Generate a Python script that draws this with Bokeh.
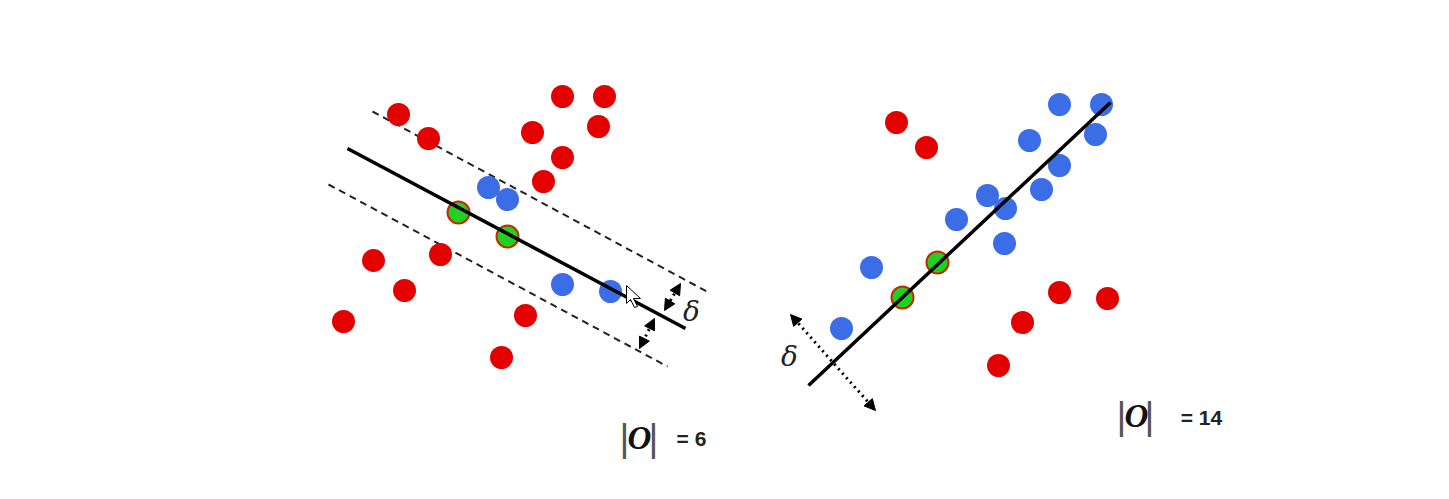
from bokeh.plotting import figure
from bokeh.models import Range1d, Arrow, NormalHead
from bokeh.core.properties import value
from bokeh.embed import file_html
from bokeh.resources import INLINE

# ---- data (reference pixel coordinates, y grows downward) ----
left_red_x = [398, 428, 562, 604, 532, 598, 562, 543, 373, 440, 404, 343, 525, 501]
left_red_y = [114, 138, 96, 96, 132, 126, 157, 181, 260, 254, 290, 321, 315, 357]
left_blue_x = [488, 507, 562, 610]
left_blue_y = [187, 199, 284, 291]
left_green_x = [458, 507]
left_green_y = [212, 236]

right_red_x = [896, 926, 1059, 1107, 1022, 998]
right_red_y = [122, 147, 292, 298, 322, 365]
right_blue_x = [1059, 1101, 1029, 1095, 1059, 987, 1005, 1041, 956, 1004, 871, 841]
right_blue_y = [104, 104, 140, 134, 165, 195, 208, 189, 219, 243, 267, 328]
right_green_x = [937, 902]
right_green_y = [262, 297]

left_line_x = [347, 685]
left_line_y = [148, 328]
left_upper_x = [372, 710]
left_upper_y = [111, 293]
left_lower_x = [328, 667]
left_lower_y = [184, 366]
right_line_x = [808, 1110]
right_line_y = [385, 102]

left_arrows = [((680, 283), (664, 310)), ((654, 318), (639, 348))]
right_arrow = ((790, 314), (875, 410))

labels = ["= 6", "= 14"]

RED = "#e50000"
BLUE = "#3a6de6"
GREEN = "#22d022"

W, H = 1433, 483
p = figure(width=W, height=H, output_backend="svg", toolbar_location=None,
           x_range=Range1d(0, W), y_range=Range1d(H, 0),
           min_border=0, min_border_left=0, min_border_right=0,
           min_border_top=0, min_border_bottom=0)
p.axis.visible = False
p.grid.visible = False
p.outline_line_color = None
p.background_fill_color = "white"
p.border_fill_color = "white"

# dashed margin lines
p.line(left_upper_x, left_upper_y, line_color="#222222", line_width=2, line_dash="7 5")
p.line(left_lower_x, left_lower_y, line_color="#222222", line_width=2, line_dash="7 5")

# points
R = 11
p.scatter(left_red_x, left_red_y, size=2 * R + 1, fill_color=RED, line_color=None)
p.scatter(left_blue_x, left_blue_y, size=2 * R + 1, fill_color=BLUE, line_color=None)
p.scatter(right_red_x, right_red_y, size=2 * R + 1, fill_color=RED, line_color=None)
p.scatter(right_blue_x, right_blue_y, size=2 * R + 1, fill_color=BLUE, line_color=None)

p.scatter(left_green_x, left_green_y, size=2 * R, fill_color=GREEN, line_color="#c42a00", line_width=2)
p.scatter(right_green_x, right_green_y, size=2 * R, fill_color=GREEN, line_color="#c42a00", line_width=2)
p.line(left_line_x, left_line_y, line_color="black", line_width=3.5)
p.line(right_line_x, right_line_y, line_color="black", line_width=3.5)

# arrows
def dbl_arrow(a, b, lw=3):
    (x0, y0), (x1, y1) = a, b
    p.add_layout(Arrow(x_start=x0, y_start=y0, x_end=x1, y_end=y1,
                       line_color="black", line_width=lw, line_dash="dotted",
                       start=NormalHead(size=11, fill_color="black", line_color="black"),
                       end=NormalHead(size=11, fill_color="black", line_color="black")))

for a, b in left_arrows:
    dbl_arrow(a, b)
dbl_arrow(right_arrow[0], right_arrow[1])

# delta labels
p.text(x=[691, 789], y=[311, 356], text=["δ", "δ"], text_font=value("DejaVu Serif"),
       text_font_style="italic", text_font_size="28px", text_color="#222222",
       text_align="center", text_baseline="middle")

# |O| labels
bar_x = [624, 653, 1121, 1149]
bar_y = [437, 437, 415, 415]
p.text(x=bar_x, y=bar_y, text=["|"] * 4, text_font=value("Liberation Sans"),
       text_font_size="38px", text_color="#555555", text_align="center", text_baseline="middle")
p.text(x=[639, 1136], y=[437, 415], text=["O", "O"], text_font=value("Liberation Serif"),
       text_font_style="bold italic", text_font_size="33px", text_color="#111111",
       text_align="center", text_baseline="middle")
p.text(x=[691, 1201], y=[438, 417], text=labels, text_font=value("Liberation Sans"),
       text_font_style="bold", text_font_size="21px", text_color="#222222",
       text_align="center", text_baseline="middle")

# mouse cursor
p.patch([626, 626, 630, 634, 637, 633, 640], [285, 303, 299, 307, 306, 298, 298],
        fill_color="white", line_color="black", line_width=1)

open("out.html", "w").write(file_html(p, INLINE))
